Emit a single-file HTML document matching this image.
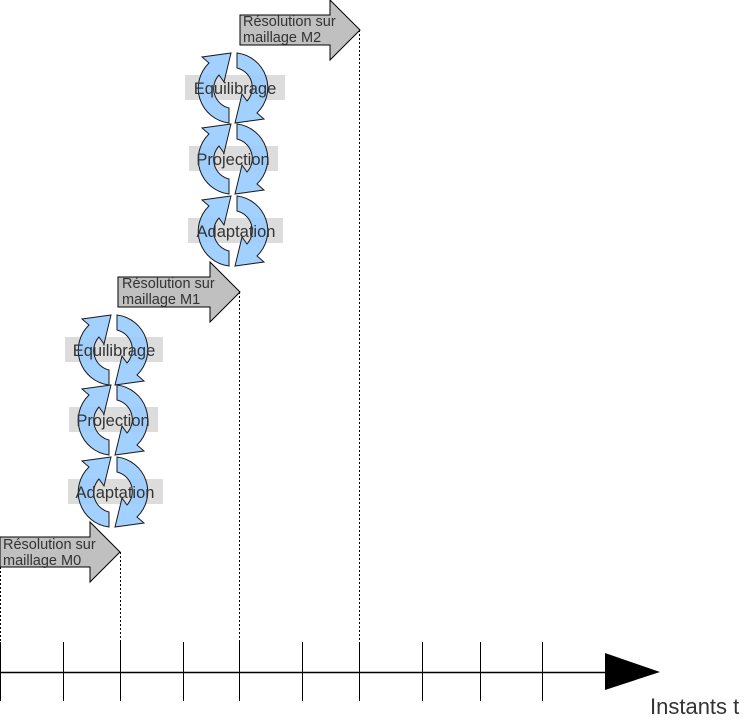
<!DOCTYPE html>
<html><head><style>body{margin:0;background:#fff;}svg{display:block;font-family:"Liberation Sans",sans-serif;}</style></head>
<body>
<svg width="756" height="724" viewBox="0 0 756 724">
<defs>
<g id="cyc">
<path d="M -4 35 A 35 35 0 0 1 -24 -25 L -31 -31 L -2 -35 L -9 -6 L -14 -13 A 20 20 0 0 0 -4 20 Z" fill="#99ccff" stroke="#000" stroke-width="1"/>
<path d="M -4 35 A 35 35 0 0 1 -24 -25 L -31 -31 L -2 -35 L -9 -6 L -14 -13 A 20 20 0 0 0 -4 20 Z" fill="#99ccff" stroke="#000" stroke-width="1" transform="rotate(180)"/>
</g>
</defs>
<g stroke="#000" stroke-width="1" stroke-dasharray="2,2">
<line x1="0.5" y1="567" x2="0.5" y2="642"/>
<line x1="120.5" y1="552" x2="120.5" y2="642"/>
<line x1="239.5" y1="292" x2="239.5" y2="642"/>
<line x1="359.5" y1="30" x2="359.5" y2="642"/>
</g>
<line x1="0" y1="672.5" x2="610" y2="672.5" stroke="#000" stroke-width="1.5"/>
<g stroke="#000" stroke-width="1">
<line x1="0.5" y1="642" x2="0.5" y2="701"/><line x1="63.5" y1="642" x2="63.5" y2="701"/>
<line x1="120.5" y1="642" x2="120.5" y2="701"/><line x1="183.5" y1="642" x2="183.5" y2="701"/>
<line x1="239.5" y1="642" x2="239.5" y2="701"/><line x1="302.5" y1="642" x2="302.5" y2="701"/>
<line x1="359.5" y1="642" x2="359.5" y2="701"/><line x1="422.5" y1="642" x2="422.5" y2="701"/>
<line x1="480.5" y1="642" x2="480.5" y2="701"/><line x1="542.5" y1="642" x2="542.5" y2="701"/>
</g>
<polygon points="605,653 660,672 605,690" fill="#000"/>
<text x="650" y="714" font-size="22" fill="#333">Instants t</text>
<g fill="#c0c0c0" stroke="#000" stroke-width="1">
<polygon points="0,537 90,537 90,522 120,552 90,582 90,567 0,567"/>
<polygon points="118,277 210,277 210,262 240,292 210,322 210,307 118,307"/>
<polygon points="240,15 330,15 330,0 360,30 330,60 330,45 240,45"/>
</g>
<g font-size="14.5" fill="#333">
<text x="3" y="549">Résolution sur</text><text x="3" y="565">maillage M0</text>
<text x="122" y="288">Résolution sur</text><text x="122" y="304">maillage M1</text>
<text x="243" y="26">Résolution sur</text><text x="243" y="42">maillage M2</text>
</g>
<g fill="#dcdcdc">
<rect x="65" y="337" width="98" height="25"/><rect x="69" y="407" width="89" height="25"/><rect x="68" y="479" width="95" height="25"/>
<rect x="185" y="75" width="100" height="25"/><rect x="189" y="146" width="89" height="25"/><rect x="188" y="218" width="95" height="25"/>
</g>
<g opacity="0.9">
<use href="#cyc" x="113" y="350"/><use href="#cyc" x="113" y="420"/><use href="#cyc" x="113" y="492"/>
<use href="#cyc" x="233" y="88"/><use href="#cyc" x="233" y="159"/><use href="#cyc" x="233" y="231"/>
</g>
<g font-size="16.5" fill="#333" text-anchor="middle">
<text x="114" y="356">Equilibrage</text><text x="113" y="426">Projection</text><text x="115" y="498">Adaptation</text>
<text x="235" y="94">Equilibrage</text><text x="233" y="165">Projection</text><text x="236" y="237">Adaptation</text>
</g>
</svg>
</body></html>
